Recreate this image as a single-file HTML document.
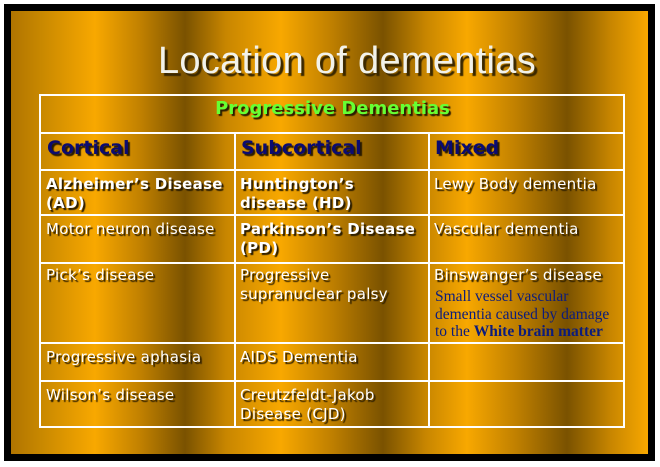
<!DOCTYPE html>
<html><head><meta charset="utf-8"><style>
*{margin:0;padding:0;box-sizing:border-box}
body{width:660px;height:467px;background:#fff;position:relative;overflow:hidden;font-family:"DejaVu Sans","Liberation Sans",sans-serif}
#blk{position:absolute;left:4px;top:4px;width:651px;height:457px;background:#000}
#gold{position:absolute;left:11px;top:11px;width:637px;height:443px;
background:linear-gradient(90deg,#b07400 0px,#c88800 30px,#f8a800 84px,#c08000 130px,#7a5200 174px,#c88600 215px,#f8a800 270px,#c08000 320px,#7a5200 372px,#c88600 415px,#f8a800 456px,#c08000 505px,#7a5200 556px,#c88600 600px,#f8a800 637px)}
#title{position:absolute;left:0;width:660px;top:40px;text-align:center;font-family:"Liberation Sans",sans-serif;font-size:38px;letter-spacing:0.3px;color:#f2f2ea;text-shadow:3px 3px 1px #3a2800;padding-left:34px}
.v{position:absolute;background:#fff;width:1.5px}
.h{position:absolute;background:#fff;height:1.5px}
.t{position:absolute;color:#fff;font-size:15px;line-height:19px;text-shadow:2px 2px 1px #2a1c00;letter-spacing:0.3px}
.b{font-weight:bold;letter-spacing:0.3px}
.hd{position:absolute;color:#0b0b70;font-weight:bold;font-size:19px;text-shadow:2px 2px 1px #2a1c00}
.s{position:absolute;color:#0c1c7c;font-family:"Liberation Serif",serif;font-size:15.5px;line-height:17.5px}
</style></head><body>
<div id="blk"></div><div id="gold"></div>
<div id="title">Location of dementias</div>
<div class="h" style="left:40px;top:94px;width:585px"></div>
<div class="h" style="left:40px;top:132px;width:585px"></div>
<div class="h" style="left:40px;top:169px;width:585px"></div>
<div class="h" style="left:40px;top:214px;width:585px"></div>
<div class="h" style="left:40px;top:262px;width:585px"></div>
<div class="h" style="left:40px;top:342px;width:585px"></div>
<div class="h" style="left:40px;top:380px;width:585px"></div>
<div class="h" style="left:40px;top:426px;width:585px"></div>
<div class="v" style="left:39px;top:94px;height:334px"></div>
<div class="v" style="left:623px;top:94px;height:334px"></div>
<div class="v" style="left:234px;top:132px;height:296px"></div>
<div class="v" style="left:428px;top:132px;height:296px"></div>
<div style="position:absolute;left:40px;width:585px;top:98px;text-align:center;color:#66ff33;font-weight:bold;font-size:18px;text-shadow:2px 2px 1px #2a1c00">Progressive Dementias</div>
<div class="hd" style="left:47px;top:137px">Cortical</div>
<div class="hd" style="left:241px;top:137px">Subcortical</div>
<div class="hd" style="left:435px;top:137px">Mixed</div>
<div class="t b" style="left:46px;top:175px">Alzheimer’s Disease<br>(AD)</div>
<div class="t b" style="left:240px;top:175px">Huntington’s<br>disease (HD)</div>
<div class="t" style="left:434px;top:175px">Lewy Body dementia</div>
<div class="t" style="left:46px;top:220px">Motor neuron disease</div>
<div class="t b" style="left:240px;top:220px">Parkinson’s Disease<br>(PD)</div>
<div class="t" style="left:434px;top:220px">Vascular dementia</div>
<div class="t" style="left:46px;top:266px">Pick’s disease</div>
<div class="t" style="left:240px;top:266px">Progressive<br>supranuclear palsy</div>
<div class="t" style="left:434px;top:266px">Binswanger’s disease</div>
<div class="s" style="left:435px;top:288px">Small vessel vascular<br>dementia caused by damage<br>to the <b>White brain matter</b></div>
<div class="t" style="left:46px;top:348px">Progressive aphasia</div>
<div class="t" style="left:240px;top:348px">AIDS Dementia</div>
<div class="t" style="left:46px;top:386px">Wilson’s disease</div>
<div class="t" style="left:240px;top:386px">Creutzfeldt-Jakob<br>Disease (CJD)</div>
</body></html>
